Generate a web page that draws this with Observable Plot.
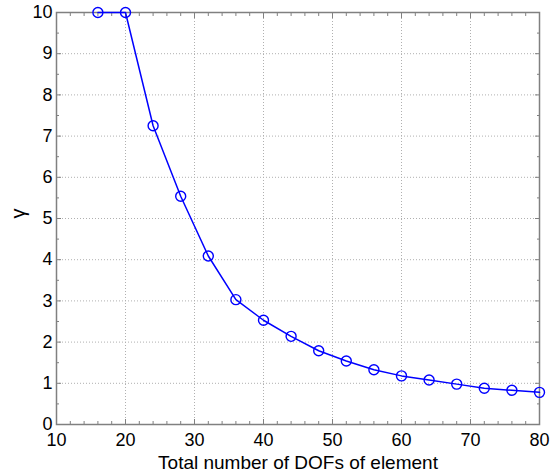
<!DOCTYPE html>
<html><head><meta charset="utf-8">
<script src="https://cdn.jsdelivr.net/npm/d3@7"></script>
<script src="https://cdn.jsdelivr.net/npm/@observablehq/plot@0.6"></script>
<style>body{margin:0;background:#fff}</style>
</head><body><div id="chart"></div>
<script>
const dofs = [16, 20, 24, 28, 32, 36, 40, 44, 48, 52, 56, 60, 64, 68, 72, 76, 80];
const gamma = [10, 10, 7.25, 5.54, 4.09, 3.03, 2.53, 2.14, 1.79, 1.54, 1.33, 1.18, 1.08, 0.98, 0.88, 0.83, 0.78];
const xMajorTicks = [10, 20, 30, 40, 50, 60, 70, 80];
const xMinorTicks = [12, 14, 16, 18, 22, 24, 26, 28, 32, 34, 36, 38, 42, 44, 46, 48, 52, 54, 56, 58, 62, 64, 66, 68, 72, 74, 76, 78];
const yMajorTicks = [0, 1, 2, 3, 4, 5, 6, 7, 8, 9, 10];
const yMinorTicks = [0.5, 1.5, 2.5, 3.5, 4.5, 5.5, 6.5, 7.5, 8.5, 9.5];
const xLabel = "Total number of DOFs of element";
const yLabel = "γ";

const data = dofs.map((x, i) => ({x, y: gamma[i]}));
const axisColor = "#808080";
const blue = "#0000ff";

const chart = Plot.plot({
  width: 550,
  height: 475,
  marginLeft: 56,
  marginRight: 11,
  marginTop: 12,
  marginBottom: 51,
  style: {fontFamily: "'Liberation Sans', Arial, sans-serif", fontSize: "18px", background: "#fff", color: "#000"},
  x: {domain: [10, 80], label: null},
  y: {domain: [0, 10], label: null},
  marks: [
    Plot.gridX(xMajorTicks, {stroke: "#b0b0b0", strokeOpacity: 1, strokeDasharray: "1,2"}),
    Plot.gridY(yMajorTicks, {stroke: "#b0b0b0", strokeOpacity: 1, strokeDasharray: "1,2"}),
    Plot.frame({stroke: axisColor, strokeWidth: 1.5}),
    Plot.axisX(xMajorTicks, {anchor: "bottom", tickSize: -5, fill: "none", stroke: axisColor}),
    Plot.axisX(xMinorTicks, {anchor: "bottom", tickSize: -3, fill: "none", stroke: axisColor}),
    Plot.axisX(xMajorTicks, {anchor: "top", tickSize: -5, fill: "none", stroke: axisColor}),
    Plot.axisX(xMinorTicks, {anchor: "top", tickSize: -3, fill: "none", stroke: axisColor}),
    Plot.axisY(yMajorTicks, {anchor: "left", tickSize: -5, fill: "none", stroke: axisColor}),
    Plot.axisY(yMinorTicks, {anchor: "left", tickSize: -3, fill: "none", stroke: axisColor}),
    Plot.axisY(yMajorTicks, {anchor: "right", tickSize: -5, fill: "none", stroke: axisColor}),
    Plot.axisY(yMinorTicks, {anchor: "right", tickSize: -3, fill: "none", stroke: axisColor}),
    Plot.axisX(xMajorTicks, {anchor: "bottom", tickSize: 0, tickPadding: 9, fill: "#000", fontSize: 18, label: null}),
    Plot.axisY(yMajorTicks, {anchor: "left", tickSize: 0, tickPadding: 4, fill: "#000", fontSize: 18, label: null}),
    Plot.line(data, {x: "x", y: "y", stroke: blue, strokeWidth: 1.5, curve: "linear"}),
    Plot.dot(data, {x: "x", y: "y", r: 5, stroke: blue, fill: "none", strokeWidth: 1.4}),
    Plot.text([xLabel], {text: d => d, frameAnchor: "bottom", dy: 44, fontSize: 19, fill: "#000"}),
    Plot.text([yLabel], {text: d => d, frameAnchor: "left", dx: -38, rotate: -90, fontSize: 20, fill: "#000"})
  ]
});
document.getElementById("chart").appendChild(chart);
</script>
</body></html>
